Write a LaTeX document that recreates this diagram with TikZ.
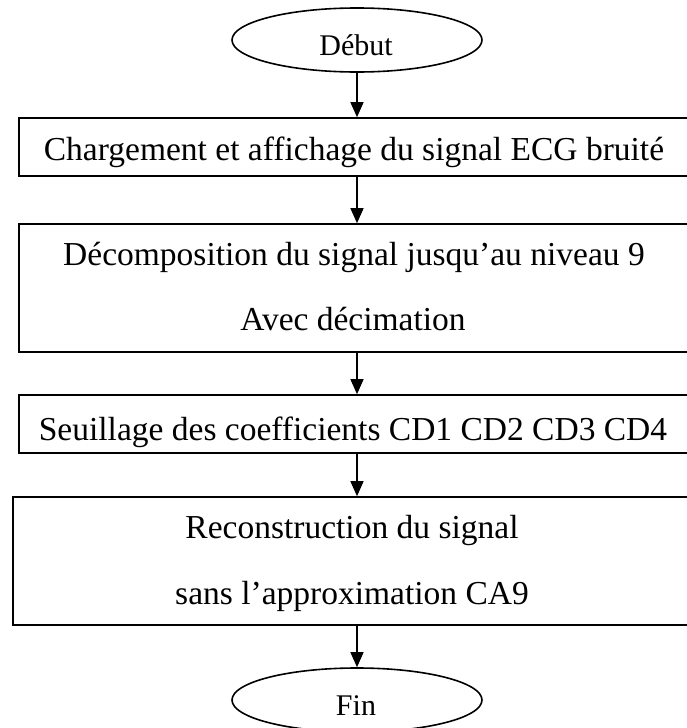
\documentclass[tikz,border=0pt]{standalone}
\usepackage{fontspec}
\setmainfont{Liberation Serif}
\usetikzlibrary{shapes.geometric,arrows.meta}

\tikzset{
  stepbox/.style={draw, line width=1.6pt, rectangle, inner sep=0pt},
  terminal/.style={draw, line width=1.6pt, ellipse, inner sep=0pt,
                   minimum width=250pt, minimum height=64pt},
  end text/.style={anchor=base, inner sep=0pt,
                   font=\fontsize{30}{36}\selectfont},
  box text/.style={anchor=base, inner sep=0pt,
                   font=\fontsize{33.5}{40}\selectfont},
  flow/.style={line width=1.3pt, -{Triangle[length=15pt,width=13pt]}}
}

\begin{document}
\begin{tikzpicture}[x=1pt, y=-1pt]
  \useasboundingbox (0,0) rectangle (687,728);
  \clip (0,0) rectangle (687,728);

  % start and end terminals
  \node[terminal] (debut) at (357,40) {};
  \node[end text] (tdebut) at (356,55) {Début};

  \node[terminal] (fin) at (357,700) {};
  \node[end text] (tfin) at (356,715) {Fin};

  % processing steps (boxes run past the right edge)
  \node[stepbox, minimum width=681pt, minimum height=58pt]  (b1) at (359.5,147) {};
  \node[box text] (t1) at (354,160) {Chargement et affichage du signal ECG bruité};

  \node[stepbox, minimum width=681pt, minimum height=128pt] (b2) at (359.5,288) {};
  \node[box text] (t2a) at (354,265) {Décomposition du signal jusqu’au niveau 9};
  \node[box text] (t2b) at (353,330) {Avec décimation};

  \node[stepbox, minimum width=681pt, minimum height=58pt]  (b3) at (359.5,424) {};
  \node[box text] (t3) at (353,440) {Seuillage des coefficients CD1 CD2 CD3 CD4};

  \node[stepbox, minimum width=687pt, minimum height=128pt] (b4) at (356.5,561) {};
  \node[box text] (t4a) at (352,538) {Reconstruction du signal};
  \node[box text] (t4b) at (352,604) {sans l’approximation CA9};

  % connectors
  \draw[flow] (debut.south) -- (debut.south |- b1.north);
  \draw[flow] (debut.south |- b1.south) -- (debut.south |- b2.north);
  \draw[flow] (debut.south |- b2.south) -- (debut.south |- b3.north);
  \draw[flow] (debut.south |- b3.south) -- (debut.south |- b4.north);
  \draw[flow] (debut.south |- b4.south) -- (fin.north);
\end{tikzpicture}
\end{document}
